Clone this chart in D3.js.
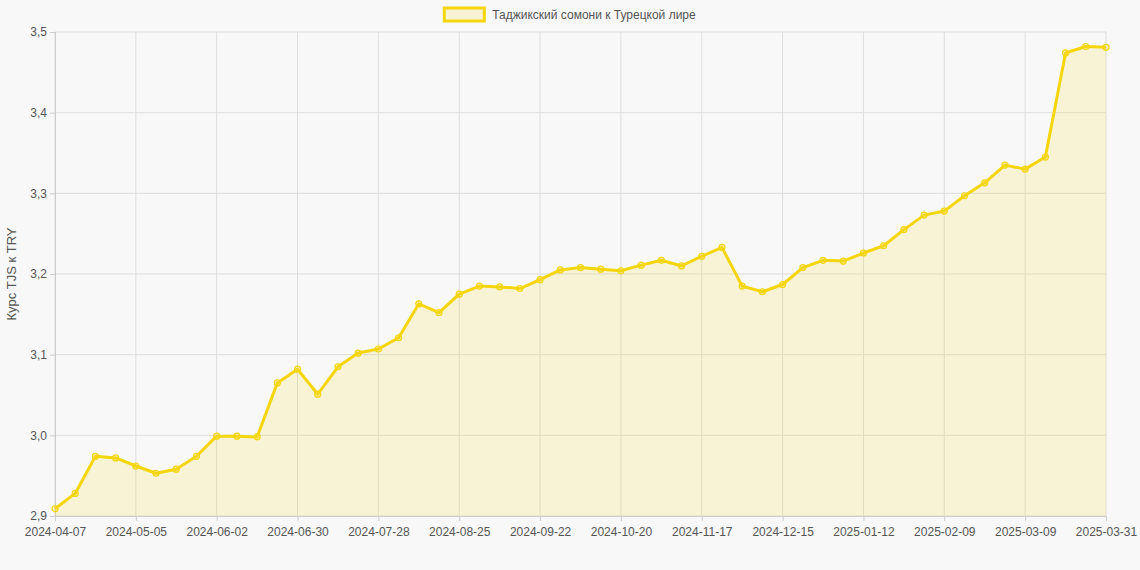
<!DOCTYPE html>
<html>
<head>
<meta charset="utf-8">
<script src="https://cdn.jsdelivr.net/npm/d3@7"></script>
<style>
	body { margin: 0; background: #f8f8f8; font-family: Arial, "Liberation Sans", sans-serif; }
	svg { display: block; }
	text { font-family: Arial, "Liberation Sans", sans-serif; }
</style>
</head>
<body>
<svg id="chart"></svg>
<script>
var dates = [
	"2024-04-07","2024-04-14","2024-04-21","2024-04-28","2024-05-05","2024-05-12","2024-05-19","2024-05-26",
	"2024-06-02","2024-06-09","2024-06-16","2024-06-23","2024-06-30","2024-07-07","2024-07-14","2024-07-21",
	"2024-07-28","2024-08-04","2024-08-11","2024-08-18","2024-08-25","2024-09-01","2024-09-08","2024-09-15",
	"2024-09-22","2024-09-29","2024-10-06","2024-10-13","2024-10-20","2024-10-27","2024-11-03","2024-11-10",
	"2024-11-17","2024-11-24","2024-12-01","2024-12-08","2024-12-15","2024-12-22","2024-12-29","2025-01-05",
	"2025-01-12","2025-01-19","2025-01-26","2025-02-02","2025-02-09","2025-02-16","2025-02-23","2025-03-02",
	"2025-03-09","2025-03-16","2025-03-23","2025-03-30","2025-03-31"
];
var rates = [
	2.909, 2.928, 2.974, 2.972, 2.962, 2.953, 2.958, 2.974,
	2.999, 2.999, 2.998, 3.065, 3.082, 3.051, 3.085, 3.102,
	3.107, 3.121, 3.163, 3.152, 3.175, 3.185, 3.184, 3.182,
	3.193, 3.205, 3.208, 3.206, 3.204, 3.211, 3.217, 3.210,
	3.222, 3.233, 3.185, 3.178, 3.187, 3.208, 3.217, 3.216,
	3.226, 3.235, 3.255, 3.273, 3.278, 3.297, 3.313, 3.335,
	3.330, 3.345, 3.474, 3.482, 3.481
];
var yTicks = [2.9, 3.0, 3.1, 3.2, 3.3, 3.4, 3.5];
var seriesName = "Таджикский сомони к Турецкой лире";
var yTitle = "Курс TJS к TRY";

var W = 1140, H = 570;
var margin = {top: 32, right: 34, bottom: 54, left: 55};
var width = W - margin.left - margin.right,
	height = H - margin.top - margin.bottom;

var svg = d3.select("#chart").attr("width", W).attr("height", H);
var g = svg.append("g").attr("transform", "translate(" + margin.left + "," + margin.top + ")");

var x = d3.scalePoint().domain(dates).range([0, width]);
var y = d3.scaleLinear().domain([2.9, 3.5]).range([height, 0]);

// tick every 4 weeks, plus the last one
var xTickVals = dates.filter(function(d, i) { return i % 4 == 0 || i == dates.length - 1; });

var fmt = function(v) { return d3.format(".1f")(v).replace(".", ","); };

// grid
g.append("g").selectAll("line").data(yTicks).enter().append("line")
	.attr("x1", 0).attr("x2", width)
	.attr("y1", function(d) { return y(d); }).attr("y2", function(d) { return y(d); })
	.attr("stroke", "#dddddd");
g.append("g").selectAll("line").data(xTickVals).enter().append("line")
	.attr("x1", function(d) { return x(d); }).attr("x2", function(d) { return x(d); })
	.attr("y1", 0).attr("y2", height)
	.attr("stroke", "#dddddd");

// axes
var yAxis = g.append("g").call(d3.axisLeft(y).tickValues(yTicks).tickFormat(fmt).tickSize(5));
var xAxis = g.append("g").attr("transform", "translate(0," + height + ")")
	.call(d3.axisBottom(x).tickValues(xTickVals).tickSize(5).tickPadding(6));
[yAxis, xAxis].forEach(function(a) {
	a.selectAll("path, line").attr("stroke", "#cccccc");
	a.selectAll("text").attr("fill", "#555").style("font-size", "12px")
		.style("font-family", "Arial, 'Liberation Sans', sans-serif");
});

// area + line
var area = d3.area()
	.x(function(d, i) { return x(dates[i]); })
	.y0(height)
	.y1(function(d) { return y(d); });
var line = d3.line()
	.x(function(d, i) { return x(dates[i]); })
	.y(function(d) { return y(d); });

g.append("path").datum(rates).attr("d", area).attr("fill", "rgba(245, 214, 12, 0.15)");
g.append("path").datum(rates).attr("d", line)
	.attr("fill", "none").attr("stroke", "#f5d60c").attr("stroke-width", 3).attr("stroke-linejoin", "round");
g.append("g").selectAll("circle").data(rates).enter().append("circle")
	.attr("cx", function(d, i) { return x(dates[i]); })
	.attr("cy", function(d) { return y(d); })
	.attr("r", 3)
	.attr("fill", "rgba(245, 214, 12, 0.25)")
	.attr("stroke", "#f5d60c").attr("stroke-width", 1.2);

// y title
svg.append("text")
	.attr("transform", "translate(16," + (margin.top + height / 2) + ") rotate(-90)")
	.attr("text-anchor", "middle")
	.attr("fill", "#555").style("font-size", "13px")
	.text(yTitle);

// legend
var legend = svg.append("g");
var lt = legend.append("text").attr("y", 19).attr("fill", "#555").style("font-size", "12px").text(seriesName);
var tw = lt.node().getComputedTextLength();
var lx = (W - (40 + 8 + tw)) / 2;
legend.append("rect").attr("x", lx).attr("y", 8).attr("width", 40).attr("height", 13)
	.attr("fill", "rgba(245, 214, 12, 0.15)").attr("stroke", "#f5d60c").attr("stroke-width", 3);
lt.attr("x", lx + 48);
</script>
</body>
</html>
